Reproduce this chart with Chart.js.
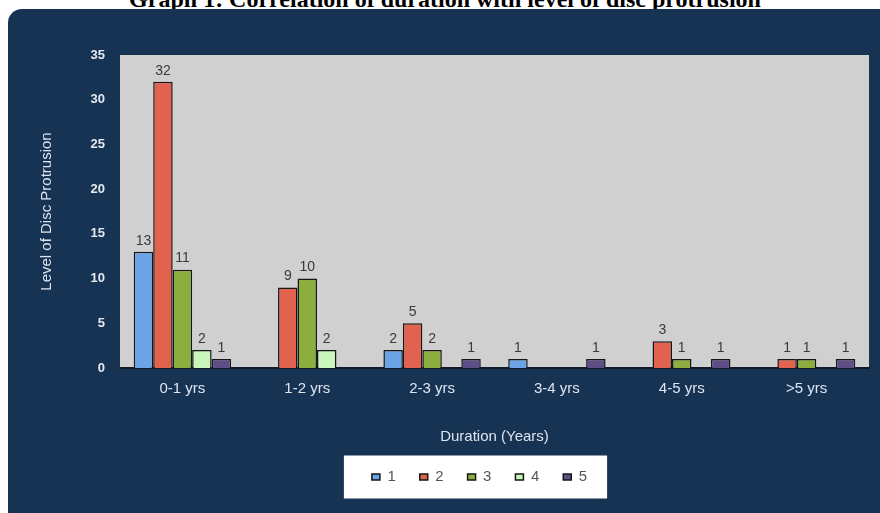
<!DOCTYPE html>
<html>
<head>
<meta charset="utf-8">
<script src="https://cdn.jsdelivr.net/npm/chart.js@4.4.0/dist/chart.umd.min.js"></script>
<style>
  html, body { margin: 0; padding: 0; background: #fff; }
  #wrap { position: relative; width: 880px; height: 513px; overflow: hidden; }
  #title {
    position: absolute; left: 5px; top: -13px; width: 880px;
    text-align: center; white-space: nowrap; color: #000;
    font: bold 24px/24px "Liberation Serif", "Times New Roman", serif;
  }
  canvas { position: absolute; left: 0; top: 0; }
</style>
</head>
<body>
<div id="wrap">
  <div id="title">Graph 1: Correlation of duration with level of disc protrusion</div>
  <canvas id="chart" width="880" height="513"></canvas>
</div>
<script>
const durations = ['0-1 yrs', '1-2 yrs', '2-3 yrs', '3-4 yrs', '4-5 yrs', '>5 yrs'];
const levelNames = ['1', '2', '3', '4', '5'];
// counts per duration group; null = no bar
const level1 = [13, null, 2, 1, null, null];
const level2 = [32, 9, 5, null, 3, 1];
const level3 = [11, 10, 2, null, 1, 1];
const level4 = [2, 2, null, null, null, null];
const level5 = [1, null, 1, 1, 1, 1];
const yMin = 0, yMax = 35, yStep = 5;

const fills = ['#6aa4e6', '#e0624f', '#8cae3e', '#c9f7bb', '#5e4e88'];
const font = 'Liberation Sans, Arial, sans-serif';

// navy panel, grey plot area, white legend box
const backdrop = {
  id: 'backdrop',
  afterLayout(chart) {
    // nudge legend to the right of the layout centre
    chart.legend.left += 26;
    chart.legend.right += 26;
  },
  beforeDraw(chart) {
    const { ctx, chartArea: a, legend } = chart;
    ctx.save();
    ctx.fillStyle = '#163354';
    ctx.beginPath();
    ctx.roundRect(8, 9, 900, 520, 14);
    ctx.fill();
    ctx.fillStyle = '#d0d0d0';
    ctx.fillRect(a.left, a.top, a.right - a.left, a.bottom - a.top);
    const hb = legend.legendHitBoxes;
    if (hb && hb.length) {
      const first = hb[0], last = hb[hb.length - 1];
      const x0 = first.left - 28, x1 = last.left + last.width + 20;
      const yc = first.top + first.height / 2;
      ctx.fillStyle = '#ffffff';
      ctx.fillRect(x0, yc - 21.5, x1 - x0, 43);
    }
    ctx.restore();
  }
};

// value labels above each bar
const barValues = {
  id: 'barValues',
  afterDatasetsDraw(chart) {
    const { ctx } = chart;
    ctx.save();
    ctx.font = '14px ' + font;
    ctx.fillStyle = '#3a3a3a';
    ctx.textAlign = 'center';
    ctx.textBaseline = 'bottom';
    chart.data.datasets.forEach((ds, i) => {
      chart.getDatasetMeta(i).data.forEach((bar, j) => {
        const v = ds.data[j];
        if (v === null || v === undefined) return;
        ctx.fillText(String(v), bar.x, bar.y - 4);
      });
    });
    ctx.restore();
  }
};

const series = [level1, level2, level3, level4, level5];
const datasets = series.map((data, i) => ({
  label: levelNames[i],
  data,
  backgroundColor: fills[i],
  borderColor: '#161616',
  borderWidth: 1.5,
  barPercentage: 1.0,
  categoryPercentage: 0.78
}));

new Chart(document.getElementById('chart'), {
  type: 'bar',
  data: { labels: durations, datasets },
  plugins: [backdrop, barValues],
  options: {
    responsive: false,
    animation: false,
    layout: { padding: { left: 38, right: 11, top: 55, bottom: 18.5 } },
    plugins: {
      tooltip: { enabled: false },
      legend: {
        position: 'bottom',
        labels: {
          boxWidth: 8,
          boxHeight: 6,
          padding: 24,
          color: '#555',
          font: { family: font, size: 15 }
        }
      }
    },
    scales: {
      x: {
        grid: { display: false, drawTicks: false },
        border: { display: true, color: '#0e1a28', width: 2 },
        ticks: { color: '#dfe5ee', padding: 12, font: { family: font, size: 15 } },
        title: {
          display: true, text: 'Duration (Years)', color: '#dce3ec',
          padding: { top: 0, bottom: 0 }, font: { family: font, size: 15 }
        },
        afterFit(scale) { scale.height = 77.5; }
      },
      y: {
        min: yMin, max: yMax,
        grid: { display: false, drawTicks: false },
        border: { display: false },
        ticks: {
          stepSize: yStep, color: '#e4e9f0', padding: 15,
          font: { family: font, size: 13, weight: 'bold' }
        },
        title: {
          display: true, text: 'Level of Disc Protrusion', color: '#dce3ec',
          padding: { top: 0, bottom: 0 }, font: { family: font, size: 15 }
        },
        afterFit(scale) { scale.width = 82; }
      }
    }
  }
});
</script>
</body>
</html>
